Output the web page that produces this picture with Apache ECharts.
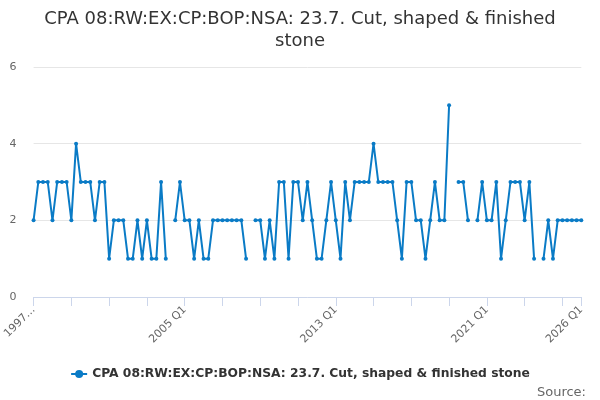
<!DOCTYPE html>
<html>
<head>
<meta charset="utf-8">
<script src="https://cdn.jsdelivr.net/npm/echarts@6/dist/echarts.min.js"></script>
<style>html,body{margin:0;padding:0;background:#fff}#c{width:600px;height:400px}</style>
</head>
<body>
<div id="c"></div>
<script>
var startYear = 1997;
var endYear = 2026;
var categories = [];
for (var y = startYear; y <= endYear; y++) {
  for (var q = 1; q <= 4; q++) {
    if (y === endYear && q > 1) break;
    categories.push(y + ' Q' + q);
  }
}
var seriesName = 'CPA 08:RW:EX:CP:BOP:NSA: 23.7. Cut, shaped & finished stone';
var values = [
  2,3,3,3,2,3,3,3,2,4,3,3,3,2,3,3,1,2,2,2,1,1,2,1,2,1,1,3,1,
  null,
  2,3,2,2,1,2,1,1,2,2,2,2,2,2,2,1,
  null,
  2,2,1,2,1,3,3,1,3,3,
  2,3,2,1,1,2,3,2,1,3,
  2,3,3,3,3,4,3,3,3,3,
  2,1,3,3,2,2,1,2,3,2,
  2,5,
  null,
  3,3,2,
  null,
  2,3,2,2,3,1,2,3,3,3,2,3,1,
  null,
  1,2,1,2,2,2,2,2,2
];
var yTicks = [0, 2, 4, 6];
var labelEvery = 32;
var tickEvery = 8;
var lastIdx = categories.length - 1;

var chart = echarts.init(document.getElementById('c'));
chart.setOption({
  animation: false,
  textStyle: { fontFamily: 'DejaVu Sans' },
  title: [{
    text: seriesName.replace('finished stone', 'finished\nstone'),
    left: 'center',
    top: 3,
    textStyle: { fontSize: 18, fontWeight: 'normal', color: '#333', lineHeight: 22, fontFamily: 'DejaVu Sans', align: 'center' }
  }, {
    text: 'Source:',
    right: 9,
    top: 381,
    textStyle: { fontSize: 13, fontWeight: 'normal', color: '#666', fontFamily: 'DejaVu Sans' }
  }],
  legend: {
    top: 363,
    left: 'center',
    itemWidth: 16,
    itemHeight: 10,
    itemGap: 6,
    textStyle: { fontSize: 12.3, fontWeight: 'bold', color: '#333', fontFamily: 'DejaVu Sans' },
    data: [seriesName]
  },
  grid: { left: 33.3, right: 18.7, top: 67, bottom: 103, containLabel: false },
  xAxis: {
    type: 'category',
    data: categories,
    boundaryGap: false,
    axisLine: { lineStyle: { color: '#ccd6eb', width: 1 } },
    axisTick: {
      length: 9,
      lineStyle: { color: '#ccd6eb' },
      interval: function (i) { return i % tickEvery === 0 || i === lastIdx; }
    },
    axisLabel: {
      rotate: 45,
      color: '#666',
      fontSize: 11,
      margin: 11,
      interval: function (i) { return i % labelEvery === 0 || i === lastIdx; },
      formatter: function (v, i) { return i === 0 ? v.slice(0, 4) + '…' : v; }
    },
    splitLine: { show: false }
  },
  yAxis: {
    type: 'value',
    min: yTicks[0],
    max: yTicks[yTicks.length - 1],
    interval: 2,
    axisLine: { show: false },
    axisTick: { show: false },
    axisLabel: { color: '#666', fontSize: 11, margin: 17 },
    splitLine: { lineStyle: { color: '#e6e6e6', width: 1 } }
  },
  series: [{
    name: seriesName,
    type: 'line',
    data: values,
    connectNulls: false,
    symbol: 'circle',
    symbolSize: 4,
    showSymbol: true,
    showAllSymbol: true,
    itemStyle: { color: '#0a7bc6' },
    lineStyle: { color: '#0a7bc6', width: 2 }
  }]
});
</script>
</body>
</html>
